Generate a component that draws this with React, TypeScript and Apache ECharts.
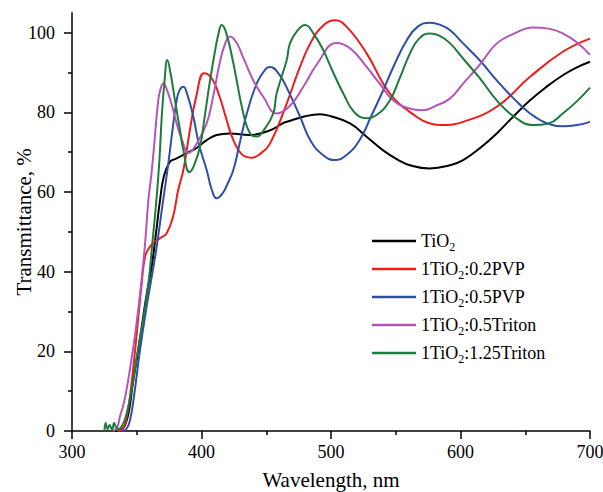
import React, { useEffect, useRef } from "react";
import * as echarts from "echarts";

const seriesNames = ["TiO2", "1TiO2:0.2PVP", "1TiO2:0.5PVP", "1TiO2:0.5Triton", "1TiO2:1.25Triton"];
const seriesColors = ["#000000", "#ee1c1c", "#2e4fa8", "#b455b8", "#1e7b3e"];

const xTicks = [300, 400, 500, 600, 700];
const yTickLabels = [0, 20, 40, 60, 80, 100];
const yMinorTicks = [10, 30, 50, 70, 90];

const tio2X = [333, 338, 341, 344, 347, 351, 355, 358, 361.5, 365, 368, 371, 375.7, 380, 386, 396, 404, 411.7, 422, 437, 453, 463, 468, 480, 491.5, 500, 514.7, 527, 540, 552, 561, 576, 592, 602, 615, 628, 641, 653.7, 666, 679, 690, 700];
const tio2Y = [0, 0.3, 1.5, 5, 12, 20, 28.7, 35, 41.2, 50, 58, 64, 67.6, 68.3, 69.3, 71, 73, 74.3, 74.7, 74.3, 75.5, 77.3, 77.8, 79, 79.5, 79, 77.2, 74, 70.5, 68, 66.7, 65.9, 66.7, 68, 71, 74.7, 79, 83, 86.3, 89.3, 91.3, 92.7];

const pvp02X = [335, 339, 342, 346, 350, 353.8, 356.4, 360, 364, 368, 373, 378, 382, 386, 391, 396, 402, 408, 414, 419, 424.6, 431, 438.7, 445, 453, 465.8, 475, 484, 494, 503, 512, 527.5, 545.5, 566, 576.5, 586, 602, 628, 653.7, 679, 700];
const pvp02Y = [0, 0.5, 3, 12, 24.5, 37, 43.7, 46.2, 47.6, 48.4, 49.6, 53.8, 60.5, 65.5, 75.5, 84, 89.8, 88.5, 83.9, 78.5, 73, 69.5, 68.6, 69.5, 72.2, 82.2, 90.5, 97.3, 101.8, 103.1, 101.5, 94.8, 84.7, 78.9, 77.2, 76.8, 77.6, 81.4, 88.9, 95.2, 98.5];

const pvp05X = [338, 342, 345, 348, 352.5, 358, 365, 370, 374.4, 377, 380.8, 383, 386, 389, 393.7, 398, 404, 408, 411.7, 416, 420, 424.6, 430, 435, 443, 450, 453, 460, 468, 476, 484, 494, 503, 512, 522, 531, 540.4, 549, 558.5, 567, 576.5, 584, 592, 602, 615, 628, 641, 653.7, 667, 679, 690, 700];
const pvp05Y = [0, 0.5, 3, 9, 20.3, 32, 45.4, 57, 67.2, 74, 83, 85.5, 86.4, 84.5, 78.9, 72, 65.5, 60.5, 58.4, 59.5, 62, 65.5, 73, 79.7, 87.5, 91, 91.4, 89.5, 84.7, 79, 73, 69.2, 68, 69.3, 73, 79, 85.6, 92, 98.1, 101.5, 102.5, 102, 100.6, 97.3, 93, 88, 83.5, 79.7, 77.2, 76.5, 76.8, 77.6];

const triton05X = [332, 335, 337, 340, 343, 347, 351, 356, 359, 361.5, 363.5, 366.6, 368.5, 370.5, 374, 378.2, 380.8, 385, 390, 396, 404, 409, 414, 418, 422, 427, 432, 440, 447.7, 458, 468, 478.6, 490, 504, 515, 527.5, 538, 548, 560, 571, 580, 592, 602, 615, 628, 641, 656, 668, 679, 690, 700];
const triton05Y = [0, 1, 3.6, 7, 12, 20.3, 30, 45.4, 58, 65, 72, 83, 86, 87.2, 85, 80.5, 77.2, 73, 69.8, 72, 77.2, 84, 92.3, 97, 99, 97.5, 93.9, 88, 83.9, 79.7, 81.5, 86.4, 92.5, 97.4, 96, 91.4, 87, 83, 81, 80.5, 81.5, 83.5, 87.2, 92, 97.3, 99.7, 101.3, 101, 99.8, 97.5, 94.4];

const triton125X = [325, 326, 327.5, 329, 331, 332.5, 334, 336, 338, 341, 344, 347, 350, 355, 359, 362, 365.4, 367.5, 369.3, 371.5, 373.6, 376, 379.5, 383.4, 386, 390.6, 394, 398.8, 402.5, 406.6, 410.5, 413, 415.5, 419, 424.6, 432.3, 437.5, 442.6, 448, 455.4, 458, 465.8, 468.3, 474, 480, 487, 494, 501, 509.5, 518, 527.5, 536, 545.5, 553, 561, 568, 576.5, 584, 592, 602, 615, 628, 641, 656, 668, 679, 690, 700];
const triton125Y = [0, 2, 0.5, 1.5, 0.3, 2, 1, 0.5, 1, 3, 7, 12, 18.6, 28, 37, 47, 58.8, 68, 78.9, 88, 93.1, 90, 83, 75.5, 70.5, 65, 66.5, 71.3, 79, 88, 95.5, 99.5, 101.9, 100, 92.3, 79.7, 74.7, 73.9, 75.5, 79.7, 84.7, 93.1, 97.3, 100.5, 101.9, 99.5, 95.6, 90.5, 84.7, 80, 78.5, 79.5, 83, 88.5, 94.8, 98.5, 99.8, 99.2, 97.3, 93.5, 88.5, 83, 79, 76.8, 77.2, 79.7, 82.8, 86.2];

const allX = [tio2X, pvp02X, pvp05X, triton05X, triton125X];
const allY = [tio2Y, pvp02Y, pvp05Y, triton05Y, triton125Y];

const FONT = "Liberation Serif";

function legendFormatter(name: string): string {
  const parts = name.split("TiO2");
  const pre = parts[0] + "TiO";
  const post = parts[1] || "";
  return `{n|${pre}}{s|2}` + (post ? `{n|${post}}` : "");
}

export default function App() {
  const ref = useRef<HTMLDivElement>(null);
  useEffect(() => {
    if (!ref.current) return;
    const chart = echarts.init(ref.current, undefined, { renderer: "svg" });
    const axisColor = "#000";
    chart.setOption({
      animation: false,
      backgroundColor: "#ffffff",
      textStyle: { fontFamily: FONT },
      grid: { left: 72, right: 13, top: 12.7, bottom: 61, containLabel: false, outerBoundsMode: "none" },
      legend: {
        orient: "vertical",
        left: 372,
        top: 229.5,
        padding: 0,
        itemGap: 5,
        itemWidth: 44,
        itemHeight: 2.5,
        icon: "rect",
        data: seriesNames,
        formatter: legendFormatter,
        textStyle: {
          fontFamily: FONT,
          fontSize: 18,
          color: "#000",
          rich: {
            n: { fontFamily: FONT, fontSize: 18, color: "#000", lineHeight: 25 },
            s: { fontFamily: FONT, fontSize: 12, color: "#000", lineHeight: 14, padding: [11, 0, 0, 0] },
          },
        },
      },
      xAxis: {
        type: "value",
        min: 300,
        max: 700,
        interval: 100,
        name: "Wavelength, nm",
        nameLocation: "middle",
        nameGap: 38,
        nameMoveOverlap: false,
        nameTextStyle: { fontFamily: FONT, fontSize: 21, color: "#000" },
        axisLine: { show: true, onZero: false, lineStyle: { color: axisColor, width: 1.5 } },
        axisTick: { show: true, inside: false, length: 8, lineStyle: { color: axisColor, width: 1.5 } },
        minorTick: { show: true, splitNumber: 2, length: 4, lineStyle: { color: axisColor, width: 1.5 } },
        splitLine: { show: false },
        minorSplitLine: { show: false },
        axisLabel: {
          margin: 12,
          fontFamily: FONT,
          fontSize: 18,
          color: "#000",
          customValues: xTicks,
        },
      },
      yAxis: [
        {
          type: "value",
          min: 0,
          max: 105,
          name: "Transmittance, %",
          nameLocation: "middle",
          nameGap: 38,
          nameMoveOverlap: false,
          nameTextStyle: { fontFamily: FONT, fontSize: 21, color: "#000" },
          axisLine: { show: true, onZero: false, lineStyle: { color: axisColor, width: 1.5 } },
          axisTick: { show: true, inside: false, length: 8, customValues: yTickLabels, lineStyle: { color: axisColor, width: 1.5 } },
          splitLine: { show: false },
          axisLabel: { margin: 17, fontFamily: FONT, fontSize: 18, color: "#000", customValues: yTickLabels },
        },
        {
          type: "value",
          min: 0,
          max: 105,
          position: "left",
          axisLine: { show: false },
          axisTick: { show: true, inside: false, length: 4, customValues: yMinorTicks, lineStyle: { color: axisColor, width: 1.5 } },
          axisLabel: { show: false },
          splitLine: { show: false },
        },
      ],
      series: seriesNames.map((name, i) => ({
        name,
        type: "line",
        yAxisIndex: 0,
        data: allX[i].map((x, j) => [x, allY[i][j]]),
        showSymbol: false,
        symbol: "none",
        smooth: 0.45,
        lineStyle: { color: seriesColors[i], width: 2 },
        itemStyle: { color: seriesColors[i] },
        z: 2 + i,
      })),
    });
    return () => chart.dispose();
  }, []);
  return <div ref={ref} style={{ width: 603, height: 492, position: "absolute", left: 0, top: 0 }} />;
}
